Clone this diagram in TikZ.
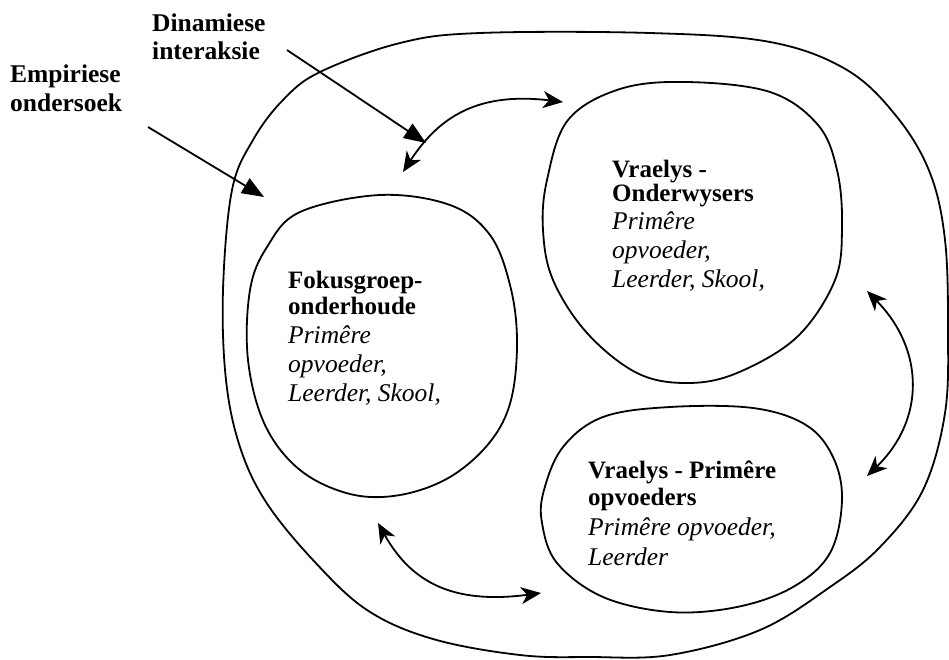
\documentclass[tikz,border=0pt]{standalone}
\usepackage{fontspec}
\setmainfont{Liberation Serif}
\usetikzlibrary{arrows.meta}
\tikzset{
  blob/.style={draw=black, line width=1.8pt},
  lbl/.style={anchor=base west, inner sep=0pt, font=\fontsize{25.5}{29}\selectfont\bfseries},
  ttl/.style={anchor=base west, inner sep=0pt, font=\fontsize{25}{29}\selectfont\bfseries},
  itl/.style={anchor=base west, inner sep=0pt, font=\fontsize{25.5}{29}\selectfont\itshape},
  straightarrow/.style={line width=1.8pt, -{Triangle[length=22pt,width=17pt]}},
  twoway/.style={line width=1.8pt, {Stealth[length=20pt,width=17pt,inset=6pt]}-{Stealth[length=20pt,width=17pt,inset=6pt]}}
}
\begin{document}
\begin{tikzpicture}[x=1pt,y=-1pt]
\useasboundingbox (0,0) rectangle (949,659);
\fill[white] (0,0) rectangle (949,659);

% outer boundary
\draw[blob] plot[smooth cycle, tension=0.6] coordinates {
 (480,33) (650,33) (770,42) (847,70) (897,117) (930,173) (945,240) (948,330)
 (945,413) (923,490) (880,547) (830,587) (760,630) (670,655) (590,657) (520,655)
 (433,639) (367,610) (313,560) (266,502) (240,447) (226,380) (223,290)
 (232,190) (253,140) (283,100) (320,72) (400,43)};

% Fokusgroep blob
\draw[blob] plot[smooth cycle, tension=0.6] coordinates {
 (250,290) (267,247) (300,212) (380,195) (450,205) (490,235) (510,285) (517,340)
 (511,400) (490,442) (450,477) (400,495) (350,494) (300,470) (265,425) (248,360)};

% Onderwysers blob
\draw[blob] plot[smooth cycle, tension=0.6] coordinates {
 (687,82) (770,92) (818,125) (837,170) (842,225) (835,280) (797,337) (737,373)
 (687,383) (637,373) (587,333) (553,280) (543,230) (547,180) (568,120) (620,89)};

% Primere blob
\draw[blob] plot[smooth cycle, tension=0.6] coordinates {
 (670,407) (753,408) (806,425) (833,457) (842,500) (830,553) (793,587) (737,607)
 (670,612) (603,597) (557,563) (542,523) (544,490) (563,447) (603,417)};

% outside labels
\node[lbl] (dina1) at (152,31) {Dinamiese};
\node[lbl] (dina2) at (152,59) {interaksie};
\node[lbl] (emp1) at (10,82) {Empiriese};
\node[lbl] (emp2) at (10,111) {ondersoek};

% Fokusgroep text
\node[ttl] (fok1) at (288,288) {Fokusgroep-};
\node[ttl] (fok2) at (288,314) {onderhoude};
\node[itl] (fok3) at (288,343) {Primêre};
\node[itl] (fok4) at (288,372) {opvoeder,};
\node[itl] (fok5) at (288,401) {Leerder, Skool,};

% Onderwysers text
\node[ttl] (ond1) at (612,177) {Vraelys -};
\node[ttl] (ond2) at (612,201) {Onderwysers};
\node[itl] (ond3) at (612,229) {Primêre};
\node[itl] (ond4) at (612,258) {opvoeder,};
\node[itl] (ond5) at (612,287) {Leerder, Skool,};

% Primere text
\node[ttl] (pri1) at (588,478) {Vraelys - Primêre};
\node[ttl] (pri2) at (588,505) {opvoeders};
\node[itl] (pri3) at (588,535) {Primêre opvoeder,};
\node[itl] (pri4) at (588,565) {Leerder};

% arrow end points
\coordinate (empS) at (148,127);
\coordinate (empE) at (264,197);
\coordinate (dinS) at (287,50);
\coordinate (dinE) at (426,143);
\coordinate (tA) at (403,172);
\coordinate (tB) at (563,102);
\coordinate (bA) at (378,523);
\coordinate (bB) at (541,593);
\coordinate (rA) at (867,291);
\coordinate (rB) at (867,476);

\draw[straightarrow] (empS) -- (empE);
\draw[straightarrow] (dinS) -- (dinE);
\draw[twoway] (tA) .. controls (440,115) and (480,92) .. (tB);
\draw[twoway] (bA) .. controls (410,580) and (450,605) .. (bB);
\draw[twoway] (rA) .. controls (925,350) and (925,420) .. (rB);
\end{tikzpicture}
\end{document}
